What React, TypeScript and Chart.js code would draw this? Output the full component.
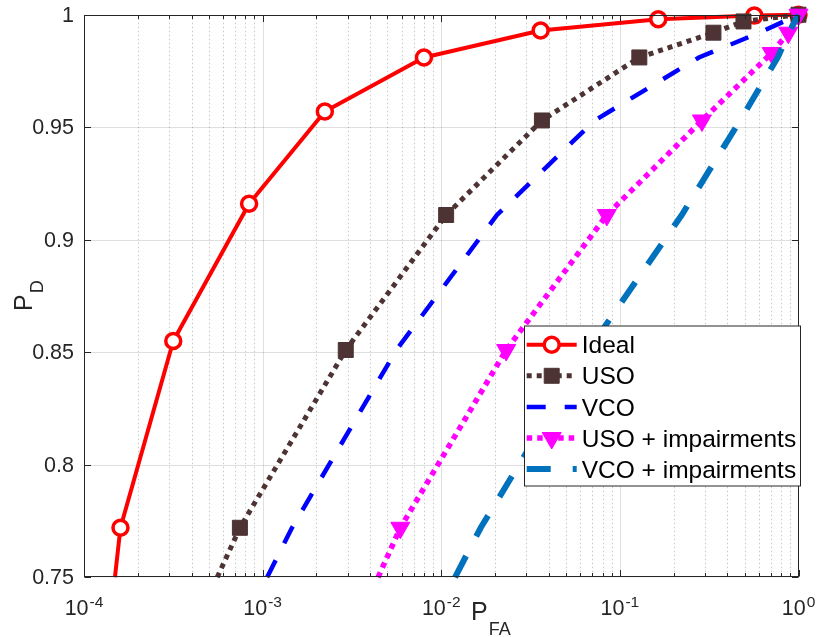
import React, { useEffect, useRef } from 'react';
import { Chart, registerables } from 'chart.js';

Chart.register(...registerables);

const FONT = "'Liberation Sans', Arial, Helvetica, sans-serif";
const AXIS_COLOR = '#262626';

// ---- data ----
const seriesNames = ['Ideal', 'USO', 'VCO', 'USO + impairments', 'VCO + impairments'];

const idealPfa = [1.49e-4, 1.6e-4, 3.16e-4, 8.4e-4, 2.23e-3, 8.0e-3, 0.036, 0.164, 0.566, 1];
const idealPd = [0.75, 0.772, 0.855, 0.916, 0.957, 0.981, 0.993, 0.998, 0.9996, 1];

const usoPfa = [5.57e-4, 7.46e-4, 2.92e-3, 0.01065, 0.0366, 0.1285, 0.334, 0.492, 1];
const usoPd = [0.75, 0.772, 0.851, 0.911, 0.953, 0.981, 0.992, 0.997, 1];

const vcoPfa = [1.06e-3, 1.46e-3, 5.61e-3, 0.0205, 0.0722, 0.277, 0.604, 1];
const vcoPd = [0.75, 0.772, 0.851, 0.911, 0.953, 0.981, 0.992, 1];

const usoImpPfa = [4.43e-3, 5.9e-3, 0.0231, 0.0845, 0.288, 0.708, 0.877, 1];
const usoImpPd = [0.75, 0.772, 0.851, 0.911, 0.953, 0.983, 0.992, 1];

const vcoImpPfa = [0.01194, 0.01663, 0.0668, 0.222, 0.471, 0.765, 0.885, 1];
const vcoImpPd = [0.75, 0.772, 0.851, 0.911, 0.953, 0.981, 0.992, 1];

const yTickValues = [0.75, 0.8, 0.85, 0.9, 0.95, 1];
const yTickLabels = ['0.75', '0.8', '0.85', '0.9', '0.95', '1'];
const xDecadeExponents = [-4, -3, -2, -1, 0];
const xTickBase = '10';
const xLabelMain = 'P';
const xLabelSub = 'FA';
const yLabelMain = 'P';
const yLabelSub = 'D';

// ---- styles ----
type Style = {
  color: string;
  width: number;
  dash: number[];
  marker: 'circle' | 'rect' | 'triangle' | null;
  radius: number;
  fill: string;
  markerBorder: number;
};

const styles: Style[] = [
  { color: '#FF0000', width: 4, dash: [], marker: 'circle', radius: 7.5, fill: '#FFFFFF', markerBorder: 3.5 },
  { color: '#4D3333', width: 5, dash: [5, 5], marker: 'rect', radius: 10.6, fill: '#4D3333', markerBorder: 1 },
  { color: '#0000FF', width: 4.5, dash: [19, 19], marker: null, radius: 0, fill: '#0000FF', markerBorder: 1 },
  { color: '#FF00FF', width: 5.5, dash: [5.5, 5], marker: 'triangle', radius: 11, fill: '#FF00FF', markerBorder: 1 },
  { color: '#0072BD', width: 6, dash: [24, 22], marker: null, radius: 0, fill: '#0072BD', markerBorder: 1 },
];

const seriesX = [idealPfa, usoPfa, vcoPfa, usoImpPfa, vcoImpPfa];
const seriesY = [idealPd, usoPd, vcoPd, usoImpPd, vcoImpPd];

function drawMarker(ctx: CanvasRenderingContext2D, s: Style, cx: number, cy: number) {
  if (!s.marker) return;
  ctx.save();
  ctx.setLineDash([]);
  ctx.fillStyle = s.fill;
  ctx.strokeStyle = s.color;
  ctx.lineWidth = s.markerBorder;
  ctx.beginPath();
  if (s.marker === 'circle') {
    ctx.arc(cx, cy, s.radius, 0, Math.PI * 2);
  } else if (s.marker === 'rect') {
    const h = s.radius * Math.SQRT1_2;
    ctx.rect(cx - h, cy - h, 2 * h, 2 * h);
  } else {
    const r = s.radius;
    ctx.moveTo(cx, cy + r);
    ctx.lineTo(cx - r * Math.sin(Math.PI / 3), cy - r / 2);
    ctx.lineTo(cx + r * Math.sin(Math.PI / 3), cy - r / 2);
    ctx.closePath();
  }
  ctx.fill();
  ctx.stroke();
  ctx.restore();
}

const matlabPlugin = {
  id: 'matlabAxes',
  beforeDatasetsDraw(chart: any) {
    const { ctx, chartArea: ca } = chart;
    const xs = chart.scales.x;
    const ys = chart.scales.y;
    ctx.save();
    ctx.beginPath();
    ctx.rect(ca.left, ca.top, ca.right - ca.left, ca.bottom - ca.top);
    ctx.clip();
    ctx.lineWidth = 1;
    // minor x grid (dotted)
    ctx.strokeStyle = 'rgba(38,38,38,0.25)';
    ctx.setLineDash([1.5, 2.5]);
    for (let i = 0; i < xDecadeExponents.length - 1; i++) {
      const base = Math.pow(10, xDecadeExponents[i]);
      for (let m = 2; m <= 9; m++) {
        const px = Math.round(xs.getPixelForValue(m * base)) + 0.5;
        ctx.beginPath();
        ctx.moveTo(px, ca.top);
        ctx.lineTo(px, ca.bottom);
        ctx.stroke();
      }
    }
    // major grid (solid)
    ctx.setLineDash([]);
    ctx.strokeStyle = 'rgba(38,38,38,0.15)';
    for (const e of xDecadeExponents) {
      const px = Math.round(xs.getPixelForValue(Math.pow(10, e))) + 0.5;
      ctx.beginPath();
      ctx.moveTo(px, ca.top);
      ctx.lineTo(px, ca.bottom);
      ctx.stroke();
    }
    for (const v of yTickValues) {
      const py = Math.round(ys.getPixelForValue(v)) + 0.5;
      ctx.beginPath();
      ctx.moveTo(ca.left, py);
      ctx.lineTo(ca.right, py);
      ctx.stroke();
    }
    ctx.restore();
  },
  afterDatasetsDraw(chart: any) {
    const { ctx, chartArea: ca } = chart;
    const xs = chart.scales.x;
    const ys = chart.scales.y;
    ctx.save();
    ctx.setLineDash([]);
    ctx.strokeStyle = AXIS_COLOR;
    ctx.lineWidth = 1;
    const L = Math.round(ca.left) + 0.5;
    const R = Math.round(ca.right) - 0.5;
    const T = Math.round(ca.top) + 0.5;
    const B = Math.round(ca.bottom) - 0.5;
    ctx.strokeRect(L, T, R - L, B - T);
    // tick marks inside the box
    const major = 6.5;
    const minor = 3.5;
    ctx.beginPath();
    for (let i = 0; i < xDecadeExponents.length; i++) {
      const base = Math.pow(10, xDecadeExponents[i]);
      const px = Math.round(xs.getPixelForValue(base)) + 0.5;
      ctx.moveTo(px, B); ctx.lineTo(px, B - major);
      ctx.moveTo(px, T); ctx.lineTo(px, T + major);
      if (i < xDecadeExponents.length - 1) {
        for (let m = 2; m <= 9; m++) {
          const mx = Math.round(xs.getPixelForValue(m * base)) + 0.5;
          ctx.moveTo(mx, B); ctx.lineTo(mx, B - minor);
          ctx.moveTo(mx, T); ctx.lineTo(mx, T + minor);
        }
      }
    }
    for (const v of yTickValues) {
      const py = Math.round(ys.getPixelForValue(v)) + 0.5;
      ctx.moveTo(L, py); ctx.lineTo(L + major, py);
      ctx.moveTo(R, py); ctx.lineTo(R - major, py);
    }
    ctx.stroke();

    ctx.fillStyle = AXIS_COLOR;

    // y tick labels
    ctx.font = `21.5px ${FONT}`;
    ctx.textAlign = 'right';
    ctx.textBaseline = 'middle';
    yTickValues.forEach((v, i) => {
      ctx.fillText(yTickLabels[i], ca.left - 10, ys.getPixelForValue(v) + 1);
    });

    // x tick labels with superscript exponents
    ctx.textBaseline = 'alphabetic';
    ctx.textAlign = 'left';
    for (const e of xDecadeExponents) {
      const px = xs.getPixelForValue(Math.pow(10, e));
      const expText = String(e);
      ctx.font = `21.5px ${FONT}`;
      const bw = ctx.measureText(xTickBase).width;
      ctx.font = `15.5px ${FONT}`;
      const ew = ctx.measureText(expText).width;
      const start = px - (bw + ew + 1) / 2;
      ctx.font = `21.5px ${FONT}`;
      ctx.fillText(xTickBase, start, 615);
      ctx.font = `15.5px ${FONT}`;
      ctx.fillText(expText, start + bw + 1, 606.5);
    }

    // x axis label P_FA
    ctx.font = `25px ${FONT}`;
    const pw = ctx.measureText(xLabelMain).width;
    ctx.fillText(xLabelMain, 471, 620);
    ctx.font = `18px ${FONT}`;
    ctx.fillText(xLabelSub, 471 + pw + 1, 634.5);

    // y axis label P_D (rotated)
    ctx.save();
    ctx.translate(32, 311);
    ctx.rotate(-Math.PI / 2);
    ctx.font = `25px ${FONT}`;
    const pw2 = ctx.measureText(yLabelMain).width;
    ctx.fillText(yLabelMain, 0, 0);
    ctx.font = `18px ${FONT}`;
    ctx.fillText(yLabelSub, pw2 + 1, 11);
    ctx.restore();
    ctx.restore();
  },
  afterDraw(chart: any) {
    const { ctx } = chart;
    ctx.save();
    // legend box
    const bx = 524.5, by = 326, bw = 276, bh = 160;
    ctx.fillStyle = '#FFFFFF';
    ctx.fillRect(bx, by, bw, bh);
    ctx.strokeStyle = AXIS_COLOR;
    ctx.lineWidth = 1;
    ctx.setLineDash([]);
    ctx.strokeRect(bx, by, bw, bh);
    const x0 = 526.7, x1 = 576.7, xm = (x0 + x1) / 2;
    for (let i = 0; i < seriesNames.length; i++) {
      const s = styles[i];
      const base = 353.3 + i * 31.1;
      const cy = base - 8.6;
      ctx.save();
      ctx.strokeStyle = s.color;
      ctx.lineWidth = s.width;
      ctx.lineCap = 'butt';
      ctx.setLineDash(s.dash);
      ctx.beginPath();
      ctx.moveTo(x0, cy);
      ctx.lineTo(x1, cy);
      ctx.stroke();
      ctx.restore();
      drawMarker(ctx, s, xm, cy);
      ctx.fillStyle = '#000000';
      ctx.font = `24.5px ${FONT}`;
      ctx.textBaseline = 'alphabetic';
      ctx.textAlign = 'left';
      ctx.fillText(seriesNames[i], 581.7, base);
    }
    ctx.restore();
  },
};

export default function App() {
  const canvasRef = useRef<HTMLCanvasElement | null>(null);

  useEffect(() => {
    const canvas = canvasRef.current;
    if (!canvas) return;
    const datasets = seriesNames.map((name, i) => {
      const s = styles[i];
      const xsArr = seriesX[i];
      const ysArr = seriesY[i];
      return {
        label: name,
        data: xsArr.map((x, k) => ({ x, y: ysArr[k] })),
        borderColor: s.color,
        backgroundColor: s.fill,
        borderWidth: s.width,
        borderDash: s.dash,
        borderCapStyle: 'butt' as const,
        borderJoinStyle: (s.dash.length ? 'miter' : 'round') as any,
        pointStyle: s.marker || 'circle',
        pointRotation: s.marker === 'triangle' ? 180 : 0,
        pointRadius: xsArr.map((_, k) => (k === 0 || !s.marker ? 0 : s.radius)),
        pointHoverRadius: xsArr.map((_, k) => (k === 0 || !s.marker ? 0 : s.radius)),
        pointBackgroundColor: s.fill,
        pointBorderColor: s.color,
        pointBorderWidth: s.markerBorder,
        tension: 0,
        fill: false,
        clip: false as any,
        order: seriesNames.length - 1 - i,
      };
    });

    const chart = new Chart(canvas, {
      type: 'line',
      data: { datasets },
      options: {
        responsive: false,
        animation: false,
        events: [],
        devicePixelRatio: 1,
        layout: { autoPadding: false, padding: { top: 14.7, right: 18.5, left: 0, bottom: 0 } },
        plugins: { legend: { display: false }, tooltip: { enabled: false } },
        scales: {
          x: {
            type: 'logarithmic',
            min: 1e-4,
            max: 1,
            grid: { display: false, drawTicks: false },
            border: { display: false },
            ticks: { display: false },
            afterFit: (s: any) => { s.height = 59.7; },
          },
          y: {
            type: 'linear',
            min: 0.75,
            max: 1,
            grid: { display: false, drawTicks: false },
            border: { display: false },
            ticks: { display: false, stepSize: 0.05 },
            afterFit: (s: any) => { s.width = 84; },
          },
        },
      },
      plugins: [matlabPlugin],
    });
    return () => chart.destroy();
  }, []);

  return (
    <div style={{ position: 'absolute', left: 0, top: 0, width: 817, height: 637, background: '#FFFFFF' }}>
      <canvas ref={canvasRef} width={817} height={637} style={{ display: 'block' }} />
    </div>
  );
}
